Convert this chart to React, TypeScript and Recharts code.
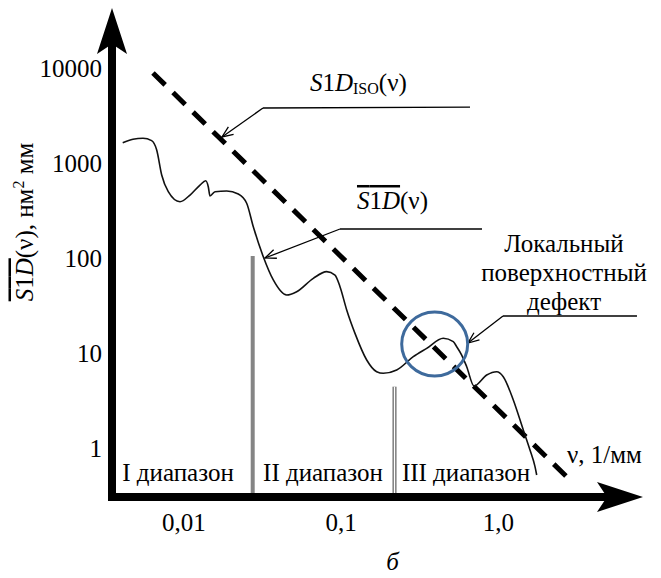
import React from 'react';
import { LineChart, Line, XAxis, YAxis, ReferenceLine, ReferenceDot } from 'recharts';

const FONT = 'Liberation Serif, Tinos, Times New Roman, DejaVu Serif, serif';
const FS = 25;

// ---- measured curve S1D(ν) ----
const nu = [0.00408, 0.00474, 0.00549, 0.00623, 0.00671, 0.00722, 0.00795, 0.00944, 0.01093, 0.01265, 0.01375, 0.01428, 0.01464, 0.01576, 0.0187, 0.02216, 0.02506, 0.02761, 0.03196, 0.037, 0.04501, 0.05212, 0.06646, 0.08088, 0.09134, 0.09826, 0.1084, 0.1224, 0.1453, 0.1681, 0.1852, 0.2254, 0.2874, 0.3498, 0.4459, 0.5163, 0.5426, 0.5839, 0.6283, 0.6991, 0.842, 0.9747, 1.073, 1.243, 1.439, 1.587, 1.708, 1.751];
const s1d = [1636, 1776, 1820, 1718, 1371, 748, 499, 391, 460, 586, 651, 563, 449, 499, 507, 472, 377, 213, 103, 58.7, 40.8, 44.2, 61.1, 71.8, 66.2, 49.9, 28.4, 16.1, 8.44, 6.35, 6.11, 6.62, 9.14, 11.2, 14.3, 13.15, 11.65, 9.52, 7.17, 4.5, 5.87, 6.35, 5.63, 3.2, 1.547, 0.953, 0.636, 0.52];

// ---- ISO limit line S1D_ISO(ν) ----
const isoNu = [0.006355, 2.851];
const isoS = [8854, 0.4604];

// ---- axes ----
const xDomain = [0.0034874, 8.551];
const yDomain = [0.3049, 26363];
const xAxisEnd = 6.1946;
const xTicks = [0.01, 0.1, 1];
const xTickLabels = ['0,01', '0,1', '1,0'];
const yTicks = [1, 10, 100, 1000, 10000];
const yTickLabels = ['1', '10', '100', '1000', '10000'];

// ---- ranges ----
const rangeBoundNu = [0.02737, 0.2183];
const rangeBoundTop = [105, 4.418];
const rangeLabels = ['I диапазон', 'II диапазон', 'III диапазон'];
const rangeLabelNu = [0.009167, 0.07661, 0.6218];
const rangeLabelS = 0.4494;

// ---- annotations ----
const leaderNu = [
  [0.6594, 0.03182, 0.01746],
  [0.786, 0.09826, 0.03277],
  [7.603, 1.069, 0.6403],
];
const leaderS = [
  [3882, 3793, 1878],
  [201.9, 201.9, 100],
  [24.52, 24.52, 12.74],
];
const isoLabelPos = [0.06332, 5726];
const meanLabelPos = [0.12603, 327.9];
const defectLabelPos = [2.6115, 115.67];
const defectLines = ['Локальный', 'поверхностный', 'дефект'];
const defectCircle = [0.3932, 12.44];
const xUnitPos = [2.7288, 0.6952];

const curveData = nu.map((v, i) => ({ nu: v, s: s1d[i] }));
const isoData = isoNu.map((v, i) => ({ nu: v, s: isoS[i] }));

const seg = (stroke: string, width: number, marker?: string, cap?: string) => (p: any) => (
  <line
    x1={p.x1}
    y1={p.y1}
    x2={p.x2}
    y2={p.y2}
    stroke={stroke}
    strokeWidth={width}
    strokeLinecap={cap as any}
    markerEnd={marker ? `url(#${marker})` : undefined}
  />
);

const textProps = { fontFamily: FONT, fontSize: FS, fill: '#000' };

export default function App() {
  return (
    <div style={{ position: 'absolute', left: 0, top: 0, width: 661, height: 578, background: '#fff', fontFamily: FONT }}>
      <svg width={0} height={0} style={{ position: 'absolute' }}>
        <defs>
          <marker id="axisHead" markerUnits="userSpaceOnUse" markerWidth={46} markerHeight={30} viewBox="0 0 46 30" refX={26} refY={15} orient="auto">
            <path d="M0,0 L46,15 L0,30 L10,15 Z" fill="#000" />
          </marker>
          <marker id="leaderHead" markerUnits="userSpaceOnUse" markerWidth={14} markerHeight={12} viewBox="0 0 14 12" refX={12.5} refY={6} orient="auto">
            <path d="M1.5,1.5 L12.5,6 L1.5,10.5" fill="none" stroke="#000" strokeWidth={1.3} />
          </marker>
        </defs>
      </svg>
      <LineChart width={661} height={578} margin={{ top: 28, right: 16, bottom: 0, left: 0 }} style={{ fontFamily: FONT }}>
        <XAxis
          type="number"
          dataKey="nu"
          scale="log"
          domain={xDomain}
          allowDataOverflow
          ticks={xTicks}
          interval={0}
          tickFormatter={(v: number) => xTickLabels[xTicks.indexOf(v)] ?? String(v)}
          axisLine={false}
          tickLine={false}
          tickSize={0}
          tickMargin={16}
          height={81}
          tick={{ fill: '#000', fontSize: FS, fontFamily: FONT }}
          label={{
            content: () => (
              <text x={392.5} y={570} textAnchor="middle" {...textProps} fontStyle="italic">б</text>
            ),
          }}
        />
        <YAxis
          type="number"
          dataKey="s"
          scale="log"
          domain={yDomain}
          allowDataOverflow
          ticks={yTicks}
          interval={0}
          tickFormatter={(v: number) => yTickLabels[yTicks.indexOf(v)] ?? String(v)}
          axisLine={false}
          tickLine={false}
          tickSize={0}
          tickMargin={10}
          width={112}
          tick={{ fill: '#000', fontSize: FS, fontFamily: FONT }}
          label={{
            content: () => (
              <text x={32.5} y={222} transform="rotate(-90, 32.5, 222)" textAnchor="middle" {...textProps}>
                <tspan style={{ textDecoration: 'overline' }}><tspan fontStyle="italic">S</tspan>1<tspan fontStyle="italic">D</tspan></tspan>(ν), нм<tspan dy={-9} fontSize={16}>2</tspan><tspan dy={9}> мм</tspan>
              </text>
            ),
          }}
        />

        {/* range boundaries */}
        <ReferenceLine
          ifOverflow="visible"
          segment={[{ x: rangeBoundNu[0], y: yDomain[0] }, { x: rangeBoundNu[0], y: rangeBoundTop[0] }]}
          shape={seg('#858585', 4)}
        />
        <ReferenceLine
          ifOverflow="visible"
          segment={[{ x: rangeBoundNu[1], y: yDomain[0] }, { x: rangeBoundNu[1], y: rangeBoundTop[1] }]}
          shape={seg('#6a6a6a', 4)}
        />
        <ReferenceLine
          ifOverflow="visible"
          segment={[{ x: rangeBoundNu[1], y: yDomain[0] }, { x: rangeBoundNu[1], y: rangeBoundTop[1] }]}
          shape={seg('#ffffff', 1.4)}
        />

        {/* axes with arrowheads */}
        <ReferenceLine
          ifOverflow="visible"
          segment={[{ x: xDomain[0], y: yDomain[0] }, { x: xDomain[0], y: yDomain[1] }]}
          shape={seg('#000', 8, 'axisHead', 'square')}
        />
        <ReferenceLine
          ifOverflow="visible"
          segment={[{ x: xDomain[0], y: yDomain[0] }, { x: xAxisEnd, y: yDomain[0] }]}
          shape={seg('#000', 8, 'axisHead', 'square')}
        />

        {/* leaders */}
        {leaderNu.map((ln, i) => (
          <ReferenceLine
            key={`lh${i}`}
            ifOverflow="visible"
            segment={[{ x: ln[0], y: leaderS[i][0] }, { x: ln[1], y: leaderS[i][1] }]}
            shape={seg('#000', 1.3)}
          />
        ))}
        {leaderNu.map((ln, i) => (
          <ReferenceLine
            key={`ld${i}`}
            ifOverflow="visible"
            segment={[{ x: ln[1], y: leaderS[i][1] }, { x: ln[2], y: leaderS[i][2] }]}
            shape={seg('#000', 1.3, 'leaderHead')}
          />
        ))}

        <Line data={isoData} dataKey="s" type="linear" stroke="#000" strokeWidth={5} strokeDasharray="17 11" dot={false} isAnimationActive={false} />
        <Line data={curveData} dataKey="s" type="monotone" stroke="#111" strokeWidth={1.6} dot={false} isAnimationActive={false} />

        <ReferenceDot
          x={defectCircle[0]}
          y={defectCircle[1]}
          ifOverflow="visible"
          shape={(p: any) => <ellipse cx={p.cx} cy={p.cy} rx={33} ry={32} fill="none" stroke="#3e6a9c" strokeWidth={3} />}
        />

        {/* texts */}
        <ReferenceDot
          x={isoLabelPos[0]}
          y={isoLabelPos[1]}
          ifOverflow="visible"
          shape={(p: any) => (
            <text x={p.cx} y={p.cy} {...textProps}><tspan fontStyle="italic">S</tspan>1<tspan fontStyle="italic">D</tspan><tspan fontSize={16} dy={3}>ISO</tspan><tspan dy={-3}>(ν)</tspan></text>
          )}
        />
        <ReferenceDot
          x={meanLabelPos[0]}
          y={meanLabelPos[1]}
          ifOverflow="visible"
          shape={(p: any) => (
            <text x={p.cx} y={p.cy} {...textProps}><tspan style={{ textDecoration: 'overline' }}><tspan fontStyle="italic">S</tspan>1<tspan fontStyle="italic">D</tspan></tspan>(ν)</text>
          )}
        />
        <ReferenceDot
          x={defectLabelPos[0]}
          y={defectLabelPos[1]}
          ifOverflow="visible"
          shape={(p: any) => (
            <text x={p.cx} y={p.cy} textAnchor="middle" {...textProps}>
              {defectLines.map((t, i) => (
                <tspan key={i} x={p.cx} dy={i === 0 ? 0 : 29}>{t}</tspan>
              ))}
            </text>
          )}
        />
        <ReferenceDot
          x={xUnitPos[0]}
          y={xUnitPos[1]}
          ifOverflow="visible"
          shape={(p: any) => <text x={p.cx} y={p.cy} {...textProps}>ν, 1/мм</text>}
        />
        {rangeLabels.map((t, i) => (
          <ReferenceDot
            key={`rl${i}`}
            x={rangeLabelNu[i]}
            y={rangeLabelS}
            ifOverflow="visible"
            shape={(p: any) => <text x={p.cx} y={p.cy} textAnchor="middle" {...textProps}>{t}</text>}
          />
        ))}
      </LineChart>
    </div>
  );
}
